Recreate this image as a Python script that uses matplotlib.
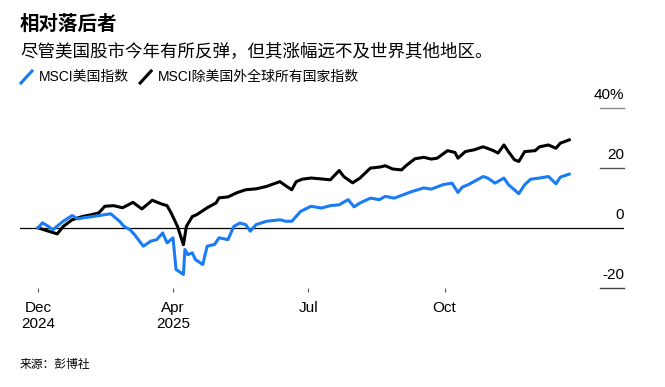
import matplotlib
matplotlib.use("Agg")
import matplotlib.pyplot as plt
import matplotlib.dates as mdates
from matplotlib.lines import Line2D
import pandas as pd

# values (% change since 2024-12-31)
usa_dates = [
    "2024-12-31", "2025-01-03", "2025-01-07", "2025-01-10", "2025-01-17", "2025-01-23",
    "2025-01-27", "2025-01-31", "2025-02-05", "2025-02-10", "2025-02-14", "2025-02-18",
    "2025-02-24", "2025-02-27", "2025-03-03", "2025-03-06", "2025-03-12", "2025-03-17",
    "2025-03-21", "2025-03-25", "2025-03-28", "2025-04-01", "2025-04-03", "2025-04-08",
    "2025-04-09", "2025-04-11", "2025-04-14", "2025-04-16", "2025-04-21", "2025-04-24",
    "2025-04-29", "2025-05-02", "2025-05-08", "2025-05-12", "2025-05-16", "2025-05-20",
    "2025-05-23", "2025-05-27", "2025-06-03", "2025-06-12", "2025-06-16", "2025-06-20",
    "2025-06-26", "2025-07-03", "2025-07-10", "2025-07-16", "2025-07-22", "2025-07-28",
    "2025-08-01", "2025-08-05", "2025-08-12", "2025-08-18", "2025-08-22", "2025-08-28",
    "2025-09-03", "2025-09-09", "2025-09-17", "2025-09-22", "2025-09-30", "2025-10-06",
    "2025-10-10", "2025-10-13", "2025-10-17", "2025-10-27", "2025-10-30", "2025-11-04",
    "2025-11-10", "2025-11-13", "2025-11-20", "2025-11-24", "2025-11-28", "2025-12-04",
    "2025-12-10", "2025-12-15", "2025-12-18", "2025-12-24",
]
usa_values = [
    0.0, 1.7, 0.5, -0.6, 2.2, 4.1,
    3.0, 3.4, 3.7, 4.1, 4.4, 4.7,
    2.2, 0.5, -0.6, -2.2, -6.1, -4.4,
    -3.9, -1.7, -5.0, -3.3, -13.8, -15.5,
    -7.2, -8.9, -8.3, -10.5, -12.2, -6.1,
    -5.5, -3.3, -3.9, 0.5, 1.6, 1.1,
    -1.1, 1.1, 2.2, 2.7, 2.2, 2.2,
    5.5, 7.2, 6.6, 7.4, 7.7, 9.4,
    7.0, 8.3, 9.9, 9.4, 10.5, 9.9,
    11.0, 12.1, 13.3, 12.9, 14.4, 14.9,
    11.8, 13.6, 14.4, 17.1, 16.6, 14.9,
    16.6, 14.4, 11.4, 14.4, 16.2, 16.6,
    17.1, 14.7, 16.9, 17.9,
]

exus_dates = [
    "2024-12-31", "2025-01-13", "2025-01-17", "2025-01-23", "2025-01-30", "2025-02-05",
    "2025-02-10", "2025-02-14", "2025-02-20", "2025-02-26", "2025-03-05", "2025-03-11",
    "2025-03-18", "2025-03-24", "2025-03-28", "2025-03-31", "2025-04-04", "2025-04-08",
    "2025-04-10", "2025-04-14", "2025-04-17", "2025-04-24", "2025-04-30", "2025-05-02",
    "2025-05-08", "2025-05-14", "2025-05-20", "2025-05-27", "2025-06-03", "2025-06-12",
    "2025-06-16", "2025-06-20", "2025-06-23", "2025-06-27", "2025-07-03", "2025-07-10",
    "2025-07-16", "2025-07-22", "2025-07-25", "2025-07-31", "2025-08-05", "2025-08-12",
    "2025-08-19", "2025-08-22", "2025-08-27", "2025-09-02", "2025-09-05", "2025-09-11",
    "2025-09-17", "2025-09-22", "2025-09-26", "2025-10-03", "2025-10-08", "2025-10-10",
    "2025-10-15", "2025-10-21", "2025-10-27", "2025-11-03", "2025-11-06", "2025-11-10",
    "2025-11-13", "2025-11-17", "2025-11-20", "2025-11-24", "2025-12-01", "2025-12-04",
    "2025-12-10", "2025-12-15", "2025-12-18", "2025-12-24",
]
exus_values = [
    0.0, -2.0, 0.5, 2.7, 3.8, 4.4,
    5.0, 7.2, 7.4, 6.7, 8.5, 6.3,
    9.2, 8.0, 7.4, 4.7, 0.5, -5.6,
    0.5, 3.8, 4.4, 6.7, 8.3, 10.0,
    10.3, 11.7, 12.7, 13.0, 13.8, 15.4,
    14.0, 12.7, 15.4, 16.2, 16.6, 16.3,
    16.0, 19.1, 17.1, 15.0, 16.6, 19.9,
    20.3, 20.7, 19.6, 19.3, 20.7, 23.0,
    23.5, 22.9, 23.2, 25.7, 25.1, 23.2,
    25.4, 26.0, 27.0, 25.7, 24.9, 27.6,
    25.4, 22.7, 22.1, 25.4, 25.7, 27.0,
    27.6, 26.5, 28.2, 29.3,
]

tick_dates = ["2024-12-31", "2025-04-01", "2025-07-01", "2025-10-01"]
tick_labels = ["Dec\n2024", "Apr\n2025", "Jul", "Oct"]
y_levels = [40, 20, 0, -20]
y_labels = ["40%", "20", "0", "-20"]

title = "相对落后者"
subtitle = "尽管美国股市今年有所反弹，但其涨幅远不及世界其他地区。"
legend_names = ["MSCI美国指数", "MSCI除美国外全球所有国家指数"]
source = "来源：彭博社"

BLUE = "#1a7cf5"
BLACK = "#000000"
CJK = ["Liberation Sans", "Noto Sans CJK SC"]


def main():
    plt.rcParams["font.family"] = CJK
    W, H = 665, 387
    fig = plt.figure(figsize=(W / 100, H / 100), dpi=100)

    def fx(px):
        return px / W

    def fy(py):
        return 1 - py / H

    ax = fig.add_axes([fx(20), fy(288), fx(624) - fx(20), fy(107.7) - fy(288)])

    usa = pd.Series(usa_values, index=pd.to_datetime(usa_dates))
    exus = pd.Series(exus_values, index=pd.to_datetime(exus_dates))

    ax.plot(exus.index, exus.values, color=BLACK, lw=2.2, solid_joinstyle="round", zorder=3)
    ax.plot(usa.index, usa.values, color=BLUE, lw=2.2, solid_joinstyle="round", zorder=4)

    start = mdates.date2num(pd.Timestamp("2024-12-31"))
    ax.set_xlim(start - 12.13, start + 394.9)
    ax.set_ylim(-20, 40)

    # zero line across full width
    ax.axhline(0, color="black", lw=0.9, zorder=2)

    # short level marks with labels on the right
    trans = ax.get_yaxis_transform()
    mark_colors = ["#8a8a8a", "#555555", "black", "#444444"]
    for lvl, lab, c in zip(y_levels, y_labels, mark_colors):
        if lvl != 0:
            ax.plot([0.96, 1.0], [lvl, lvl], color=c, lw=1.0, transform=trans,
                    clip_on=False)
        ax.annotate(lab, xy=(1.0, lvl), xycoords=trans, xytext=(0, 9.5),
                    textcoords="offset points", ha="right", va="center",
                    fontsize=11, color="black")

    for s in ax.spines.values():
        s.set_visible(False)
    ax.set_yticks([])
    ax.set_xticks(pd.to_datetime(tick_dates))
    ax.set_xticklabels(tick_labels, fontsize=11)
    ax.tick_params(axis="x", length=3.2, width=0.8, color="#555555", pad=6)

    # header
    fig.text(fx(20), fy(24), title, fontsize=14, fontweight="bold", ha="left", va="center")
    fig.text(fx(20), fy(51), subtitle, fontsize=12.6, ha="left", va="center")

    # legend: slanted line icons
    x0 = 21
    for name, c in zip(legend_names, [BLUE, BLACK]):
        fig.add_artist(Line2D([fx(x0), fx(x0 + 11)], [fy(83), fy(71)], color=c, lw=2.2,
                              transform=fig.transFigure))
        t = fig.text(fx(x0 + 18), fy(77), name, fontsize=10, ha="left", va="center")
        fig.canvas.draw()
        bb = t.get_window_extent()
        x0 = bb.x1 + 11

    fig.text(fx(20), fy(365), source, fontsize=8.5, ha="left", va="center")

    fig.savefig("out.png", dpi=100)
    print("saved out.png")


if __name__ == "__main__":
    main()
